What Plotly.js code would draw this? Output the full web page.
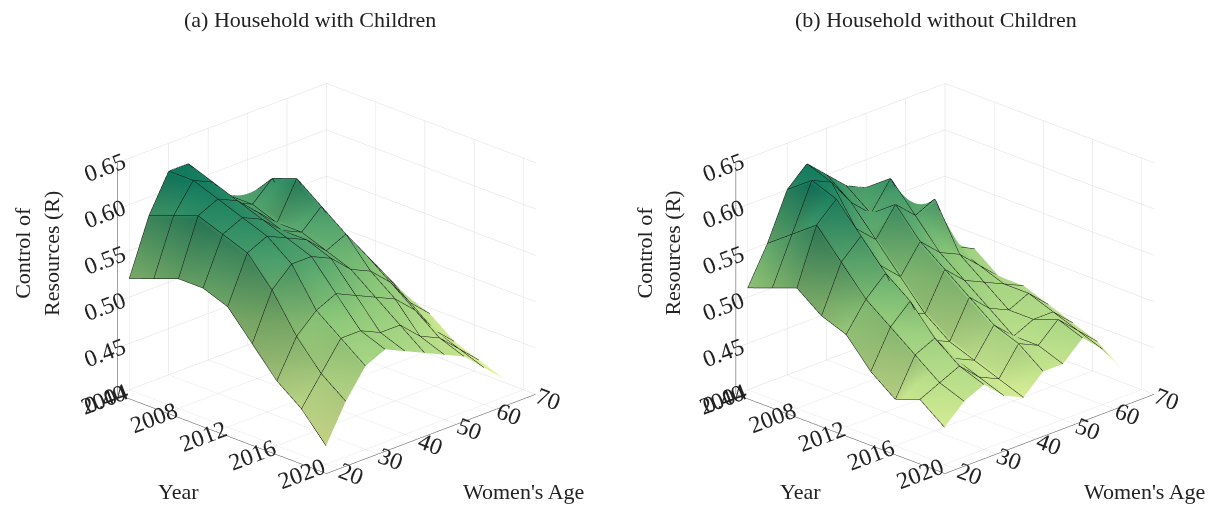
<!DOCTYPE html>
<html>
<head>
<meta charset="utf-8">
<script src="https://cdn.plot.ly/plotly-3.0.1.min.js"></script>
<style>body{margin:0;background:#fff}#plot{width:1231px;height:506px}</style>
</head>
<body>
<div id="plot"></div>
<script>
// grid: rows = year, cols = women's age
var years = [2004, 2006, 2008, 2010, 2012, 2014, 2016, 2018, 2020];
var ages = [20, 25, 30, 35, 40, 45, 50, 55, 60, 65];

var withKids = [
  [.52, .58, .62, .62, .59, .57, .56, .54, .52, .50],
  [.53, .59, .62, .61, .58, .57, .59, .55, .53, .50],
  [.54, .60, .61, .60, .58, .56, .60, .56, .52, .49],
  [.54, .59, .60, .59, .57, .56, .58, .54, .51, .48],
  [.53, .58, .59, .58, .57, .55, .56, .53, .50, .47],
  [.50, .55, .57, .57, .56, .54, .53, .51, .48, .46],
  [.47, .51, .53, .54, .53, .52, .51, .49, .46, .44],
  [.45, .48, .51, .51, .50, .50, .48, .47, .45, .43],
  [.42, .46, .49, .50, .49, .48, .47, .46, .44, .42]
];

var noKids = [
  [.51, .55, .60, .62, .60, .58, .57, .55, .52, .50],
  [.52, .57, .62, .61, .58, .56, .59, .54, .53, .49],
  [.53, .59, .61, .57, .55, .58, .56, .57, .51, .50],
  [.51, .56, .58, .54, .52, .55, .53, .52, .50, .48],
  [.50, .53, .55, .50, .49, .53, .51, .50, .49, .48],
  [.47, .51, .53, .48, .47, .51, .49, .48, .49, .47],
  [.45, .49, .50, .47, .46, .49, .47, .48, .48, .46],
  [.46, .47, .48, .46, .45, .48, .47, .49, .47, .45],
  [.44, .46, .47, .45, .44, .46, .46, .48, .46, .43]
];

var yearTicks = [2004, 2008, 2012, 2016, 2020];
var ageTicks = [20, 30, 40, 50, 60, 70];
var zTicks = [0.40, 0.45, 0.50, 0.55, 0.60, 0.65];

var cscale = [[0, '#e6f59a'], [0.5, '#8fc97a'], [1, '#117a5e']];

// surface wants rows along y (age), so flip the grid
function byAge(z) {
  return ages.map(function (a, j) { return years.map(function (y, i) { return z[i][j]; }); });
}

function surf(z, scene) {
  return {
    type: 'surface', x: years, y: ages, z: byAge(z), scene: scene,
    colorscale: cscale, cmin: 0.42, cmax: 0.62, showscale: false,
    lighting: {ambient: 0.75, diffuse: 0.5, specular: 0.1},
    contours: {
      x: {show: true, start: 2004, end: 2020, size: 2, color: '#111', width: 1},
      y: {show: true, start: 20, end: 65, size: 5, color: '#111', width: 1}
    }
  };
}

var fam = 'Liberation Serif, Times New Roman, serif';
var f = {family: fam, size: 17, color: '#222'};
function axis(ticks, range, fmt) {
  return {
    title: {text: ''},
    tickvals: ticks, range: range, tickformat: fmt, tickfont: f,
    gridcolor: '#ddd', showbackground: false, linecolor: '#444', showspikes: false
  };
}
function scene(dom) {
  return {
    domain: {x: dom, y: [0, 0.9]},
    xaxis: axis(yearTicks, [2004, 2021], ''),
    yaxis: axis(ageTicks, [17, 70], ''),
    zaxis: axis(zTicks, [0.40, 0.65], '.2f'),
    aspectmode: 'manual', aspectratio: {x: 1.3, y: 1.3, z: 1.1},
    camera: {eye: {x: 0.95, y: -0.95, z: 0.55}, projection: {type: 'orthographic'}}
  };
}

function label(text, x, y, ang, size) {
  return {text: text, x: x, y: y, xref: 'paper', yref: 'paper', xanchor: 'center', yanchor: 'middle',
          textangle: ang, showarrow: false, font: {family: fam, size: size, color: '#222'}};
}

var layout = {
  width: 1231, height: 506, margin: {l: 0, r: 0, t: 0, b: 0},
  paper_bgcolor: '#fff',
  scene: scene([0.03, 0.5]),
  scene2: scene([0.535, 1]),
  annotations: [
    label('(a) Household with Children', 0.252, 0.962, 0, 22),
    label('(b) Household without Children', 0.76, 0.962, 0, 22),
    label('Control of<br>Resources (R)', 0.03, 0.5, -90, 22),
    label('Control of<br>Resources (R)', 0.535, 0.5, -90, 22),
    label('Year', 0.145, 0.028, 0, 22),
    label('Year', 0.65, 0.028, 0, 22),
    label("Women's Age", 0.425, 0.028, 0, 22),
    label("Women's Age", 0.93, 0.028, 0, 22)
  ]
};

Plotly.newPlot('plot', [surf(withKids, 'scene'), surf(noKids, 'scene2')], layout, {displayModeBar: false});
</script>
</body>
</html>
